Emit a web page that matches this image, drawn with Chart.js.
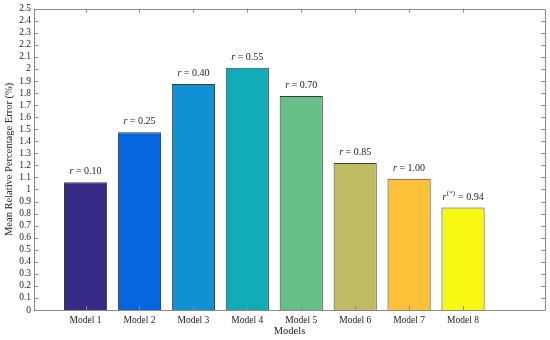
<!DOCTYPE html>
<html>
<head>
<meta charset="utf-8">
<script src="https://cdn.jsdelivr.net/npm/chart.js@4/dist/chart.umd.min.js"></script>
<style>
html,body{margin:0;padding:0;background:#fff;}
#wrap{width:550px;height:340px;}
</style>
</head>
<body>
<div id="wrap"><canvas id="c" width="550" height="340"></canvas></div>
<script>
const categories = ["Model 1","Model 2","Model 3","Model 4","Model 5","Model 6","Model 7","Model 8"];
const errorValues = [1.06, 1.475, 1.875, 2.01, 1.775, 1.22, 1.09, 0.85];
const rLabels = ["0.10","0.25","0.40","0.55","0.70","0.85","1.00","0.94"];
const rStarred = [false,false,false,false,false,false,false,true];
const barColors = ["#352a86","#0467e0","#1290d4","#11acb8","#65bf87","#bfbb63","#fcc139","#f8f713"];
const yTickValues = [0,0.1,0.2,0.3,0.4,0.5,0.6,0.7,0.8,0.9,1,1.1,1.2,1.3,1.4,1.5,1.6,1.7,1.8,1.9,2,2.1,2.2,2.3,2.4,2.5];

const FONT = "'Liberation Serif', 'Times New Roman', serif";
const AXIS_COLOR = "#8a8a8a";

const boxPlugin = {
  id: 'boxTicks',
  afterDatasetsDraw(chart) {
    const ctx = chart.ctx;
    const a = chart.chartArea;
    const xs = chart.scales.x, ys = chart.scales.y;
    ctx.save();
    ctx.strokeStyle = AXIS_COLOR;
    ctx.lineWidth = 1;
    ctx.beginPath();
    ctx.rect(Math.round(a.left)+0.5, Math.round(a.top)+0.5, Math.round(a.right-a.left), Math.round(a.bottom-a.top));
    ctx.stroke();
    ctx.beginPath();
    const tl = 4;
    ys.ticks.forEach(t => {
      const y = Math.round(ys.getPixelForValue(t.value)) + 0.5;
      ctx.moveTo(a.left, y); ctx.lineTo(a.left + tl, y);
      ctx.moveTo(a.right, y); ctx.lineTo(a.right - tl, y);
    });
    xs.ticks.forEach(t => {
      const x = Math.round(xs.getPixelForValue(t.value)) + 0.5;
      ctx.moveTo(x, a.bottom); ctx.lineTo(x, a.bottom - tl);
      ctx.moveTo(x, a.top); ctx.lineTo(x, a.top + tl);
    });
    ctx.stroke();

    // r labels above bars
    const meta = chart.getDatasetMeta(0);
    ctx.fillStyle = "#222";
    ctx.textBaseline = 'middle';
    meta.data.forEach((bar, i) => {
      const cy = bar.y - 10.5;
      const rFont = "italic 10px " + FONT;
      const nFont = "10px " + FONT;
      const supFont = "7px " + FONT;
      const rest = " = " + rLabels[i];
      ctx.font = rFont; const wr = ctx.measureText("r").width;
      ctx.font = supFont; const ws = rStarred[i] ? ctx.measureText("(*)").width + 1 : 0;
      ctx.font = nFont; const wn = ctx.measureText(rest).width;
      let x = bar.x - (wr + ws + wn) / 2;
      ctx.textAlign = 'left';
      ctx.font = rFont; ctx.fillText("r", x, cy); x += wr;
      if (rStarred[i]) { ctx.font = supFont; ctx.fillText("(*)", x + 0.5, cy - 4); x += ws; }
      ctx.font = nFont; ctx.fillText(rest, x, cy);
    });
    ctx.restore();
  }
};

new Chart(document.getElementById('c'), {
  type: 'bar',
  data: {
    datasets: [{
      data: categories.map((c, i) => ({x: i + 1, y: errorValues[i]})),
      backgroundColor: barColors,
      borderColor: "#3a3a3a",
      borderWidth: 1,
      barPercentage: 0.8,
      categoryPercentage: 1.0
    }]
  },
  options: {
    responsive: false,
    animation: false,
    devicePixelRatio: 1,
    layout: { padding: { top: 7, right: 5, left: 0, bottom: 0 } },
    plugins: { legend: { display: false }, tooltip: { enabled: false } },
    scales: {
      x: {
        type: 'linear',
        offset: false,
        min: 0.044, max: 9.52,
        afterBuildTicks: s => { s.ticks = categories.map((c, i) => ({ value: i + 1 })); },
        afterFit: s => { s.height = 30; },
        ticks: {
          autoSkip: false, maxRotation: 0, padding: 5,
          color: "#222",
          font: { family: FONT, size: 9.5 },
          callback: v => categories[Math.round(v) - 1] || ""
        },
        grid: { display: false, drawTicks: false, offset: false },
        border: { display: false },
        title: { display: true, text: "Models", color: "#222", font: { family: FONT, size: 10.5 }, padding: { top: 0, bottom: 2 } }
      },
      y: {
        min: 0, max: 2.5,
        afterBuildTicks: s => { s.ticks = yTickValues.map(v => ({ value: v })); },
        afterFit: s => { s.width = 34; },
        ticks: {
          autoSkip: false, padding: 3,
          color: "#222",
          font: { family: FONT, size: 9.5 },
          callback: v => String(Number(v.toFixed(1)))
        },
        grid: { display: false, drawTicks: false },
        border: { display: false },
        title: { display: true, text: "Mean Relative Percentage Error (%)", color: "#222", font: { family: FONT, size: 10.5 }, padding: { top: 3, bottom: 0 } }
      }
    }
  },
  plugins: [boxPlugin]
});
</script>
</body>
</html>
